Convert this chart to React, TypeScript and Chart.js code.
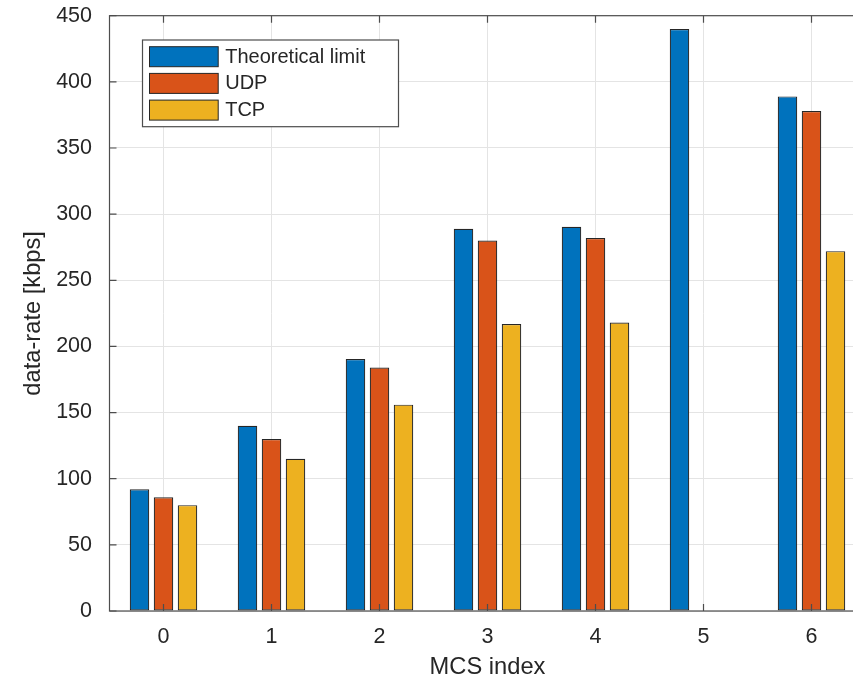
import React, { useEffect, useRef } from "react";
import { Chart, registerables } from "chart.js";

Chart.register(...registerables);

const categories = ["0", "1", "2", "3", "4", "5", "6"];
const theoretical = [92, 140, 190.5, 289, 290.5, 440, 389];
const udp = [86, 130, 184, 280, 282, 0, 378];
const tcp = [80, 115, 156, 217, 218, 0, 272];
const seriesNames = ["Theoretical limit", "UDP", "TCP"];
const seriesColors = ["#0072BD", "#D95319", "#EDB120"];
const yMin = 0;
const yMax = 450;
const yStep = 50;
const xTitle = "MCS index";
const yTitle = "data-rate [kbps]";

const FONT = "'Liberation Sans', Arial, Helvetica, sans-serif";
const AXIS_COLOR = "#4d4d4d";
const TEXT_COLOR = "#262626";

const framePlugin = {
  id: "matlabFrame",
  afterDatasetsDraw(chart: any) {
    const { ctx, chartArea: a, scales } = chart;
    const tl = 7;
    ctx.save();
    ctx.strokeStyle = AXIS_COLOR;
    ctx.lineWidth = 1.2;
    ctx.beginPath();
    scales.y.ticks.forEach((_t: any, i: number) => {
      const y = scales.y.getPixelForTick(i);
      ctx.moveTo(a.left, y);
      ctx.lineTo(a.left + tl, y);
      ctx.moveTo(a.right, y);
      ctx.lineTo(a.right - tl, y);
    });
    scales.x.ticks.forEach((_t: any, i: number) => {
      const x = scales.x.getPixelForTick(i);
      ctx.moveTo(x, a.bottom);
      ctx.lineTo(x, a.bottom - tl);
      ctx.moveTo(x, a.top);
      ctx.lineTo(x, a.top + tl);
    });
    ctx.stroke();
    ctx.strokeRect(a.left, a.top, a.right - a.left, a.bottom - a.top);
    ctx.restore();
  },
  afterDraw(chart: any) {
    const { ctx, chartArea: a } = chart;
    const bx = a.left + 33;
    const by = a.top + 24.3;
    const bw = 256;
    const bh = 86.7;
    ctx.save();
    ctx.fillStyle = "#ffffff";
    ctx.fillRect(bx, by, bw, bh);
    ctx.strokeStyle = AXIS_COLOR;
    ctx.lineWidth = 1.2;
    ctx.strokeRect(bx, by, bw, bh);
    ctx.font = `20px ${FONT}`;
    ctx.textBaseline = "middle";
    ctx.textAlign = "left";
    chart.data.datasets.forEach((ds: any, i: number) => {
      const sy = by + 6.7 + i * 26.7;
      ctx.fillStyle = ds.backgroundColor;
      ctx.fillRect(bx + 7, sy, 68.7, 20);
      ctx.strokeStyle = "#262626";
      ctx.lineWidth = 1;
      ctx.strokeRect(bx + 7, sy, 68.7, 20);
      ctx.fillStyle = TEXT_COLOR;
      ctx.fillText(ds.label, bx + 82.7, sy + 10.5);
    });
    ctx.restore();
  },
};

export default function App() {
  const ref = useRef<HTMLCanvasElement | null>(null);

  useEffect(() => {
    if (!ref.current) return;
    const seriesData = [theoretical, udp, tcp];
    const chart = new Chart(ref.current, {
      type: "bar",
      data: {
        labels: categories,
        datasets: seriesNames.map((name, i) => ({
          label: name,
          data: seriesData[i],
          backgroundColor: seriesColors[i],
          borderColor: "#262626",
          borderWidth: 1.2,
          borderSkipped: false,
          categoryPercentage: 0.6667,
          barPercentage: 0.8125,
        })),
      },
      options: {
        responsive: false,
        animation: false,
        devicePixelRatio: 1,
        layout: { padding: { left: 0, top: 15.7, right: 14.5, bottom: 0 } },
        plugins: {
          legend: { display: false },
          tooltip: { enabled: false },
        },
        scales: {
          x: {
            offset: true,
            grid: { offset: false, color: "#e4e4e4", drawTicks: false },
            border: { display: false },
            ticks: {
              color: TEXT_COLOR,
              font: { family: FONT, size: 21.5 },
              padding: 13,
              maxRotation: 0,
            },
            title: {
              display: true,
              text: xTitle,
              color: TEXT_COLOR,
              font: { family: FONT, size: 23.7 },
              padding: { top: 0, bottom: 18 },
            },
            afterFit(scale: any) {
              scale.height = 89;
              scale.paddingLeft = 0;
              scale.paddingRight = 0;
            },
          },
          y: {
            min: yMin,
            max: yMax,
            grid: { color: "#e4e4e4", drawTicks: false },
            border: { display: false },
            ticks: {
              stepSize: yStep,
              color: TEXT_COLOR,
              font: { family: FONT, size: 21.5 },
              padding: 17.5,
            },
            title: {
              display: true,
              text: yTitle,
              color: TEXT_COLOR,
              font: { family: FONT, size: 23.7 },
              padding: { top: 19, bottom: 0 },
            },
            afterFit(scale: any) {
              scale.width = 109.5;
              scale.paddingTop = 0;
              scale.paddingBottom = 0;
            },
          },
        },
      },
      plugins: [framePlugin],
    });
    return () => chart.destroy();
  }, []);

  return (
    <div
      style={{
        position: "fixed",
        left: 0,
        top: 0,
        width: 853,
        height: 680,
        overflow: "hidden",
        background: "#ffffff",
      }}
    >
      <canvas ref={ref} width={880} height={700} style={{ display: "block", width: 880, height: 700 }} />
    </div>
  );
}
